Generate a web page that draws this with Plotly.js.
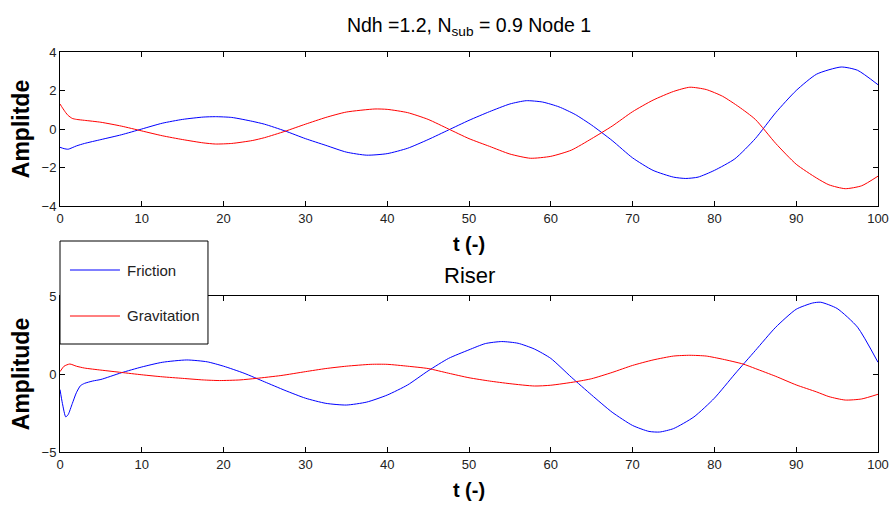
<!DOCTYPE html>
<html>
<head>
<meta charset="utf-8">
<script src="https://cdn.plot.ly/plotly-3.0.1.min.js"></script>
<style>html,body{margin:0;padding:0;background:#fff;}#chart{width:893px;height:506px;}</style>
</head>
<body>
<div id="chart"></div>
<script>
// Top subplot (Node 1)
const tFriction1 = [0,0.5,1,2,3,5,7.5,10,12.5,15,17.5,19,21,23.5,25,27.5,30,32.5,35,37.5,40,42.5,45,47.5,50,52.5,55,57,59,61,63,65,67.5,70,72.5,75,76.5,78,80,82.5,85,87.5,90,92.5,95.5,97.5,100];
const friction1 = [-0.95,-1.02,-1.05,-0.88,-0.75,-0.55,-0.3,0.0,0.3,0.5,0.62,0.64,0.6,0.4,0.25,-0.1,-0.5,-0.85,-1.2,-1.36,-1.28,-1.0,-0.55,-0.05,0.45,0.9,1.3,1.47,1.4,1.15,0.75,0.2,-0.6,-1.5,-2.15,-2.5,-2.57,-2.5,-2.15,-1.55,-0.5,0.85,2.0,2.85,3.22,3.05,2.3];
const tGrav1 = [0,0.3,0.7,1,1.5,2,3,5,7.5,10,12.5,15,17.5,19,21,23.5,25,27.5,30,32.5,35,38.5,40,42.5,45,47.5,50,52.5,55,57.5,60,62.5,65,67.5,70,72.5,75,77,79,81,83,85,87.5,90,92.5,94,96,98,100];
const grav1 = [1.3,1.1,0.85,0.7,0.55,0.5,0.45,0.35,0.15,-0.1,-0.35,-0.55,-0.72,-0.78,-0.75,-0.6,-0.45,-0.12,0.25,0.6,0.88,1.04,1.02,0.85,0.5,0.0,-0.5,-0.9,-1.3,-1.52,-1.42,-1.1,-0.5,0.15,0.9,1.5,1.95,2.17,2.05,1.7,1.15,0.5,-0.75,-1.83,-2.55,-2.9,-3.1,-2.95,-2.45];

// Bottom subplot (Riser)
const tFriction2 = [0,0.3,0.7,1,1.5,2,2.5,3,4,5,7.5,10,12.5,15.5,18,20,22.5,25,27.5,30,32.5,35,37.5,40,42.5,45,47.5,50,52,54,56,58,60,62.5,65,67.5,70,72,73.3,75,77.5,80,82.5,85,87.5,90,92,93,95,97.5,100];
const friction2 = [-1.0,-1.9,-2.75,-2.6,-1.9,-1.2,-0.75,-0.6,-0.45,-0.35,0.08,0.45,0.75,0.9,0.78,0.5,0.05,-0.5,-1.05,-1.55,-1.88,-1.99,-1.8,-1.35,-0.7,0.2,1.0,1.55,1.95,2.08,1.97,1.6,1.0,-0.2,-1.35,-2.45,-3.3,-3.68,-3.72,-3.5,-2.75,-1.55,0.0,1.5,3.0,4.15,4.55,4.6,4.2,3.0,0.75];
const tGrav2 = [0,0.5,1.2,2,3,5,7.5,10,12.5,15,17.5,19.5,22,24,27,30,32.5,35,38,40,42.5,45,47.5,50,52.5,55,58,60,63,65,67.5,70,72.5,75,77,79,81,83.5,85,87.5,90,92.5,94,96,98,100];
const grav2 = [0.15,0.5,0.64,0.5,0.38,0.25,0.1,-0.05,-0.18,-0.28,-0.38,-0.42,-0.38,-0.28,-0.1,0.15,0.35,0.5,0.62,0.62,0.5,0.35,0.05,-0.24,-0.45,-0.62,-0.77,-0.72,-0.5,-0.3,0.1,0.55,0.9,1.15,1.2,1.15,0.95,0.64,0.35,-0.15,-0.7,-1.15,-1.45,-1.67,-1.6,-1.3];

const seriesNames = ['Friction', 'Gravitation'];
const xTicks = [0,10,20,30,40,50,60,70,80,90,100];
const yTicksTop = [-4,-2,0,2,4];
const yTicksBottom = [-5,0,5];

const BLUE = '#0000ff', RED = '#ff0000';
const FONT = 'Arial, "Liberation Sans", Helvetica, sans-serif';
const lineStyle = c => ({color:c, width:1, shape:'spline', smoothing:0.6});

const traces = [
  {x: tFriction1, y: friction1, xaxis:'x', yaxis:'y', mode:'lines', name:seriesNames[0], line:lineStyle(BLUE), showlegend:false, hoverinfo:'skip'},
  {x: tGrav1, y: grav1, xaxis:'x', yaxis:'y', mode:'lines', name:seriesNames[1], line:lineStyle(RED), showlegend:false, hoverinfo:'skip'},
  {x: tFriction2, y: friction2, xaxis:'x2', yaxis:'y2', mode:'lines', name:seriesNames[0], line:lineStyle(BLUE), showlegend:false, hoverinfo:'skip'},
  {x: tGrav2, y: grav2, xaxis:'x2', yaxis:'y2', mode:'lines', name:seriesNames[1], line:lineStyle(RED), showlegend:false, hoverinfo:'skip'}
];

const axCommon = {
  showline:true, linecolor:'#000', linewidth:1, mirror:'ticks',
  ticks:'inside', ticklen:5, tickcolor:'#000', tickwidth:1,
  showgrid:false, zeroline:false,
  tickfont:{family:FONT, size:13, color:'#222'}
};

// legend box geometry (plot-area paper fractions)
const LG = {x0:0, x1:0.1809, y0:0.27, y1:0.5275, lx0:0.0122, lx1:0.0733, tx:0.0795, rows:[0.455, 0.34]};
const legendColors = [BLUE, RED];

const shapes = [
  {type:'rect', xref:'paper', yref:'paper', x0:LG.x0, x1:LG.x1, y0:LG.y0, y1:LG.y1, fillcolor:'#fff', line:{color:'#000', width:1}, layer:'above'}
];
const annotations = [
  {text:'Riser', xref:'paper', yref:'paper', x:0.5, y:0.4425, xanchor:'center', yanchor:'middle', showarrow:false, font:{family:FONT, size:22, color:'#000'}}
];
seriesNames.forEach((n, i) => {
  shapes.push({type:'line', xref:'paper', yref:'paper', x0:LG.lx0, x1:LG.lx1, y0:LG.rows[i], y1:LG.rows[i], line:{color:legendColors[i], width:1}, layer:'above'});
  annotations.push({text:n, xref:'paper', yref:'paper', x:LG.tx, y:LG.rows[i], xanchor:'left', yanchor:'middle', showarrow:false, font:{family:FONT, size:15, color:'#222'}});
});

const layout = {
  width:893, height:506,
  margin:{l:60, r:15, t:52, b:54},
  paper_bgcolor:'#fff', plot_bgcolor:'#fff',
  font:{family:FONT, color:'#000'},
  title:{text:'Ndh =1.2, N<sub>sub</sub> = 0.9 Node 1', font:{family:FONT, size:19.5, color:'#000'}, x:0.5, xref:'paper', y:0.951, yanchor:'middle'},
  xaxis: Object.assign({}, axCommon, {domain:[0,1], range:[0,100], tickvals:xTicks, anchor:'y',
    title:{text:'<b>t (-)</b>', font:{family:FONT, size:20}, standoff:12}}),
  yaxis: Object.assign({}, axCommon, {domain:[0.615,1], range:[-4,4], tickvals:yTicksTop, anchor:'x',
    title:{text:'<b>Amplitde</b>', font:{family:FONT, size:23}, standoff:5}}),
  xaxis2: Object.assign({}, axCommon, {domain:[0,1], range:[0,100], tickvals:xTicks, anchor:'y2',
    title:{text:'<b>t (-)</b>', font:{family:FONT, size:20}, standoff:12}}),
  yaxis2: Object.assign({}, axCommon, {domain:[0,0.39], range:[-5,5], tickvals:yTicksBottom, anchor:'x2',
    title:{text:'<b>Amplitude</b>', font:{family:FONT, size:23}, standoff:5}}),
  shapes: shapes,
  annotations: annotations,
  showlegend:false
};

Plotly.newPlot('chart', traces, layout, {staticPlot:true, displayModeBar:false});
</script>
</body>
</html>
